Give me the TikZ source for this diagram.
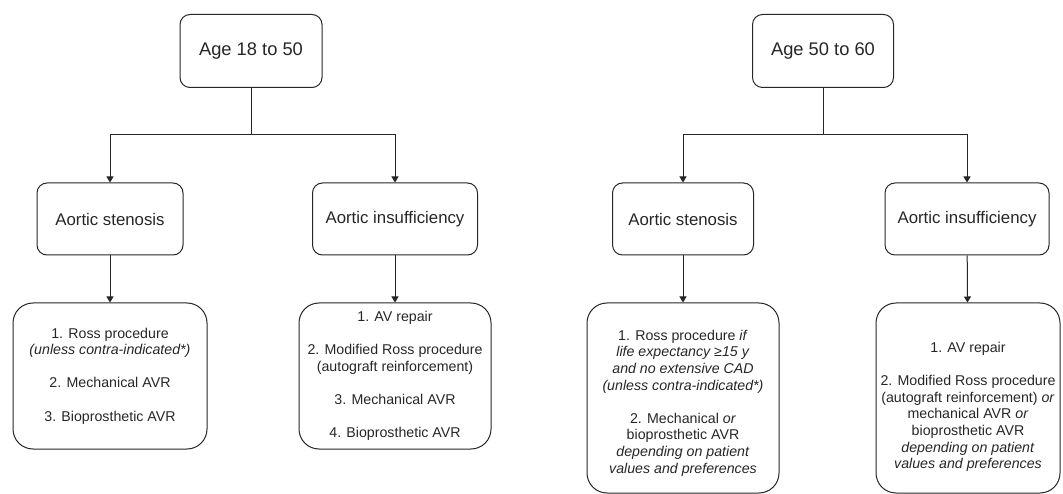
\documentclass[tikz,border=0pt]{standalone}
\usepackage{fontspec}
\setmainfont{Liberation Sans}
\usetikzlibrary{arrows.meta}
\begin{document}
\begin{tikzpicture}[x=1pt,y=-1pt,
  box/.style={draw=black!85, line width=1pt, rounded corners=10pt, align=center, inner sep=0pt,
    font=\fontsize{16.8}{19}\selectfont, text=black!85},
  agebox/.style={box, font=\fontsize{18.3}{20}\selectfont},
  resbox/.style={box, rounded corners=20pt, font=\fontsize{14.2}{16.6}\selectfont},
  restext/.style={align=center, font=\fontsize{14.2}{16.6}\selectfont, text=black!85, inner sep=0pt},
  conn/.style={draw=black!85, line width=1pt},
  arr/.style={conn, -{Triangle[length=6pt,width=7pt]}}]
\useasboundingbox (0,0) rectangle (1063,494);
% left tree
\node[agebox, minimum width=142pt, minimum height=73pt] (a18) at (251,51) {Age 18 to 50};
\node[box, minimum width=146pt, minimum height=72pt] (stL) at (110,219) {Aortic stenosis};
\node[box, minimum width=165pt, minimum height=72pt] (inL) at (395,219) {Aortic insufficiency};
\node[resbox, minimum width=194pt, minimum height=146pt] (rsL) at (110,376)
  {1. Ross procedure\\ \textit{(unless contra-indicated*)}\\[16.6pt] 2. Mechanical AVR\\[16.6pt] 3. Bioprosthetic AVR};
\node[resbox, minimum width=192pt, minimum height=146pt] (riL) at (395,376)
  {1. AV repair\\[16.6pt] 2. Modified Ross procedure\\ (autograft reinforcement)\\[16.6pt] 3. Mechanical AVR\\[16.6pt] 4. Bioprosthetic AVR};
\coordinate (jL) at (251,135);
\draw[conn] (a18) -- (jL);
\draw[arr] (jL) -| (stL);
\draw[arr] (jL) -| (inL);
\draw[arr] (stL) -- (rsL);
\draw[arr] (inL) -- (riL);
% right tree
\node[agebox, minimum width=141pt, minimum height=73pt] (a50) at (823,51) {Age 50 to 60};
\node[box, minimum width=141pt, minimum height=72pt] (stR) at (683,219) {Aortic stenosis};
\node[box, minimum width=164pt, minimum height=72pt] (inR) at (967,219) {Aortic insufficiency};
\node[resbox, minimum width=192pt, minimum height=190pt] (rsR) at (683,398) {};
\node[restext] (rsRt) at (683,403)
  {1. Ross procedure \textit{if}\\ \textit{life expectancy ≥15 y}\\ \textit{and no extensive CAD}\\ \textit{(unless contra-indicated*)}\\[16.6pt]
   2. Mechanical \textit{or}\\ bioprosthetic AVR\\ \textit{depending on patient}\\ \textit{values and preferences}};
\node[resbox, minimum width=184pt, minimum height=190pt] (riR) at (968,398) {};
\node[restext] (riRt) at (968,407)
  {1. AV repair\\[16.6pt] 2. Modified Ross procedure\\ (autograft reinforcement) \textit{or}\\ mechanical AVR \textit{or}\\ bioprosthetic AVR\\ \textit{depending on patient}\\ \textit{values and preferences}};
\coordinate (jR) at (823,135);
\draw[conn] (a50) -- (jR);
\draw[arr] (jR) -| (stR);
\draw[arr] (jR) -| (inR);
\draw[arr] (stR) -- (rsR);
\draw[arr] (inR) -- (riR);
\end{tikzpicture}
\end{document}
